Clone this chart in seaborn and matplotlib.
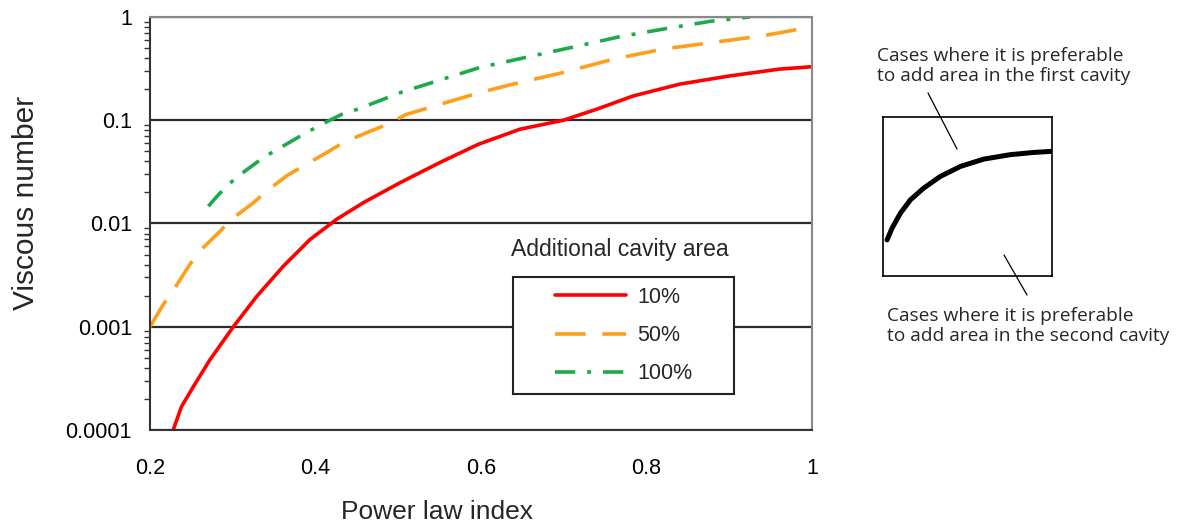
import pandas as pd
import matplotlib
matplotlib.use("Agg")
import matplotlib.pyplot as plt
from matplotlib.patches import Rectangle
from matplotlib.lines import Line2D
from matplotlib.ticker import FixedLocator, FuncFormatter, LogLocator, NullFormatter
import seaborn as sns

# values
x_10 = [0.228, 0.238, 0.252, 0.2725, 0.3007, 0.329, 0.361, 0.3934, 0.4256, 0.4578, 0.502,
        0.5505, 0.5968, 0.647, 0.6995, 0.740, 0.784, 0.8405, 0.901, 0.961, 1.0]
y_10 = [1.0e-4, 1.68e-4, 2.6e-4, 4.8e-4, 1.0e-3, 1.97e-3, 3.85e-3, 7.0e-3, 1.1e-2, 1.59e-2, 2.48e-2,
        3.9e-2, 5.85e-2, 0.0818, 0.1, 0.128, 0.172, 0.224, 0.269, 0.313, 0.33]

x_50 = [0.2, 0.216, 0.230, 0.248, 0.260, 0.2846, 0.2987, 0.325, 0.341, 0.365, 0.385, 0.4135,
        0.4336, 0.462, 0.482, 0.510, 0.599, 0.639, 0.6995, 0.760, 0.8203, 0.881, 0.941, 0.9855, 1.0]
y_50 = [1.0e-3, 1.64e-3, 2.37e-3, 4.0e-3, 5.4e-3, 8.4e-3, 1.1e-2, 1.59e-2, 2.06e-2, 2.89e-2, 3.6e-2, 4.86e-2,
        6.07e-2, 7.59e-2, 8.8e-2, 0.114, 0.186, 0.224, 0.29, 0.391, 0.489, 0.568, 0.658, 0.764, 0.78]

x_100 = [0.2705, 0.2806, 0.2946, 0.3148, 0.337, 0.361, 0.3833, 0.4075, 0.4316, 0.451, 0.504,
         0.599, 0.663, 0.7156, 0.768, 0.8203, 0.877, 0.925]
y_100 = [0.0147, 0.0182, 0.0239, 0.0322, 0.0435, 0.0563, 0.0715, 0.0913, 0.114, 0.128, 0.187,
         0.325, 0.421, 0.52, 0.645, 0.764, 0.908, 1.0]

series_labels = ["10%", "50%", "100%"]
series_colors = ["#FF0000", "#FF9E1B", "#1DAA4A"]

x_ticks = [0.2, 0.4, 0.6, 0.8, 1.0]
y_ticks = [0.0001, 0.001, 0.01, 0.1, 1]

# schematic curve of the small explanatory panel (panel units 0..1)
sketch_x = [0.024, 0.053, 0.103, 0.162, 0.241, 0.339, 0.458, 0.596, 0.753, 0.892, 1.0]
sketch_y = [0.227, 0.300, 0.395, 0.479, 0.553, 0.626, 0.689, 0.735, 0.763, 0.777, 0.784]

text_first = "Cases where it is preferable\nto add area in the first cavity"
text_second = "Cases where it is preferable\nto add area in the second cavity"

df = pd.concat([
    pd.DataFrame({"n": x_10, "v": y_10, "area": series_labels[0]}),
    pd.DataFrame({"n": x_50, "v": y_50, "area": series_labels[1]}),
    pd.DataFrame({"n": x_100, "v": y_100, "area": series_labels[2]}),
])

sns.set_style("white")
plt.rcParams["font.family"] = ["Liberation Sans", "DejaVu Sans"]

fig = plt.figure(figsize=(11.84, 5.26), dpi=100)
ax = fig.add_axes([0.1267, 0.1825, 0.5591, 0.7852])

sns.lineplot(
    data=df, x="n", y="v", hue="area", style="area",
    hue_order=series_labels, style_order=series_labels,
    palette=dict(zip(series_labels, series_colors)),
    dashes={"10%": "", "50%": (8.5, 4.6), "100%": (5.6, 3.3, 1.1, 3.3)},
    estimator=None, sort=False, linewidth=2.6, legend=False, ax=ax,
)
for ln in ax.lines:
    ln.set_dash_capstyle("butt")
    ln.set_solid_joinstyle("round")

ax.set_yscale("log")
ax.set_xlim(0.2, 1.0)
ax.set_ylim(1e-4, 1)

ax.xaxis.set_major_locator(FixedLocator(x_ticks))
ax.xaxis.set_major_formatter(FuncFormatter(lambda v, p: f"{v:g}"))
ax.yaxis.set_major_locator(FixedLocator(y_ticks))
ax.yaxis.set_major_formatter(FuncFormatter(lambda v, p: f"{v:g}"))
ax.yaxis.set_minor_locator(LogLocator(base=10, subs=range(2, 10)))
ax.yaxis.set_minor_formatter(NullFormatter())

ax.tick_params(axis="both", which="major", direction="out", length=6, width=1.3,
               color="#333333", labelsize=15.5, labelcolor="black")
ax.tick_params(axis="x", pad=14)
ax.tick_params(axis="y", pad=7)
ax.tick_params(axis="y", which="minor", direction="out", length=4, width=1.0, color="#333333", left=True)
ax.tick_params(axis="x", which="minor", bottom=False)

ax.grid(axis="y", which="major", color="#2b2b2b", linewidth=1.6)
ax.grid(axis="x", visible=False)
ax.set_axisbelow(True)

for side in ["left", "bottom"]:
    ax.spines[side].set_color("#333333")
    ax.spines[side].set_linewidth(1.5)
for side in ["top", "right"]:
    ax.spines[side].set_color("#888888")
    ax.spines[side].set_linewidth(1.5)

ax.set_xlabel("Power law index", fontsize=19)
ax.set_ylabel("Viscous number", fontsize=21.5)
ax.xaxis.set_label_coords(0.434, -0.17)
ax.yaxis.set_label_coords(-0.166, 0.55)

# legend: title above an Excel-like box
ax.text(0.71, 0.436, "Additional cavity area", transform=ax.transAxes,
        ha="center", va="center", fontsize=16.5)
ax.add_patch(Rectangle((0.548, 0.087), 0.334, 0.283, transform=ax.transAxes,
                       facecolor="white", edgecolor="#222222", linewidth=1.5, zorder=3))
leg = ax.legend(handles=list(ax.lines[:3]), labels=series_labels,
                loc="center left", bbox_to_anchor=(0.612, 0.2285),
                frameon=False, fontsize=15.5, handlelength=3.3, handletextpad=0.5,
                labelspacing=0.8, borderpad=0.0, borderaxespad=0.0)
leg.set_zorder(4)

# small explanatory panel on the right
ins = fig.add_axes([0.7458, 0.4753, 0.1427, 0.3023])
sns.lineplot(x=sketch_x, y=sketch_y, color="black", linewidth=3.6, ax=ins,
             estimator=None, sort=False)
ins.lines[0].set_solid_capstyle("round")
ins.lines[0].set_solid_joinstyle("round")
ins.set_xlim(0, 1)
ins.set_ylim(0, 1)
ins.set_xticks([])
ins.set_yticks([])
for sp in ins.spines.values():
    sp.set_color("black")
    sp.set_linewidth(1.2)

note_font = ["Open Sans", "DejaVu Sans"]
fig.text(0.7407, 0.8745, text_first, ha="left", va="center", fontsize=13.8,
         family=note_font, linespacing=1.12)
fig.text(0.7491, 0.3802, text_second, ha="left", va="center", fontsize=13.8,
         family=note_font, linespacing=1.12)
fig.add_artist(Line2D([0.7838, 0.8083], [0.8232, 0.7167], color="black", linewidth=0.9))
fig.add_artist(Line2D([0.848, 0.8674], [0.5152, 0.4392], color="black", linewidth=0.9))

fig.savefig("out.png", dpi=100)
